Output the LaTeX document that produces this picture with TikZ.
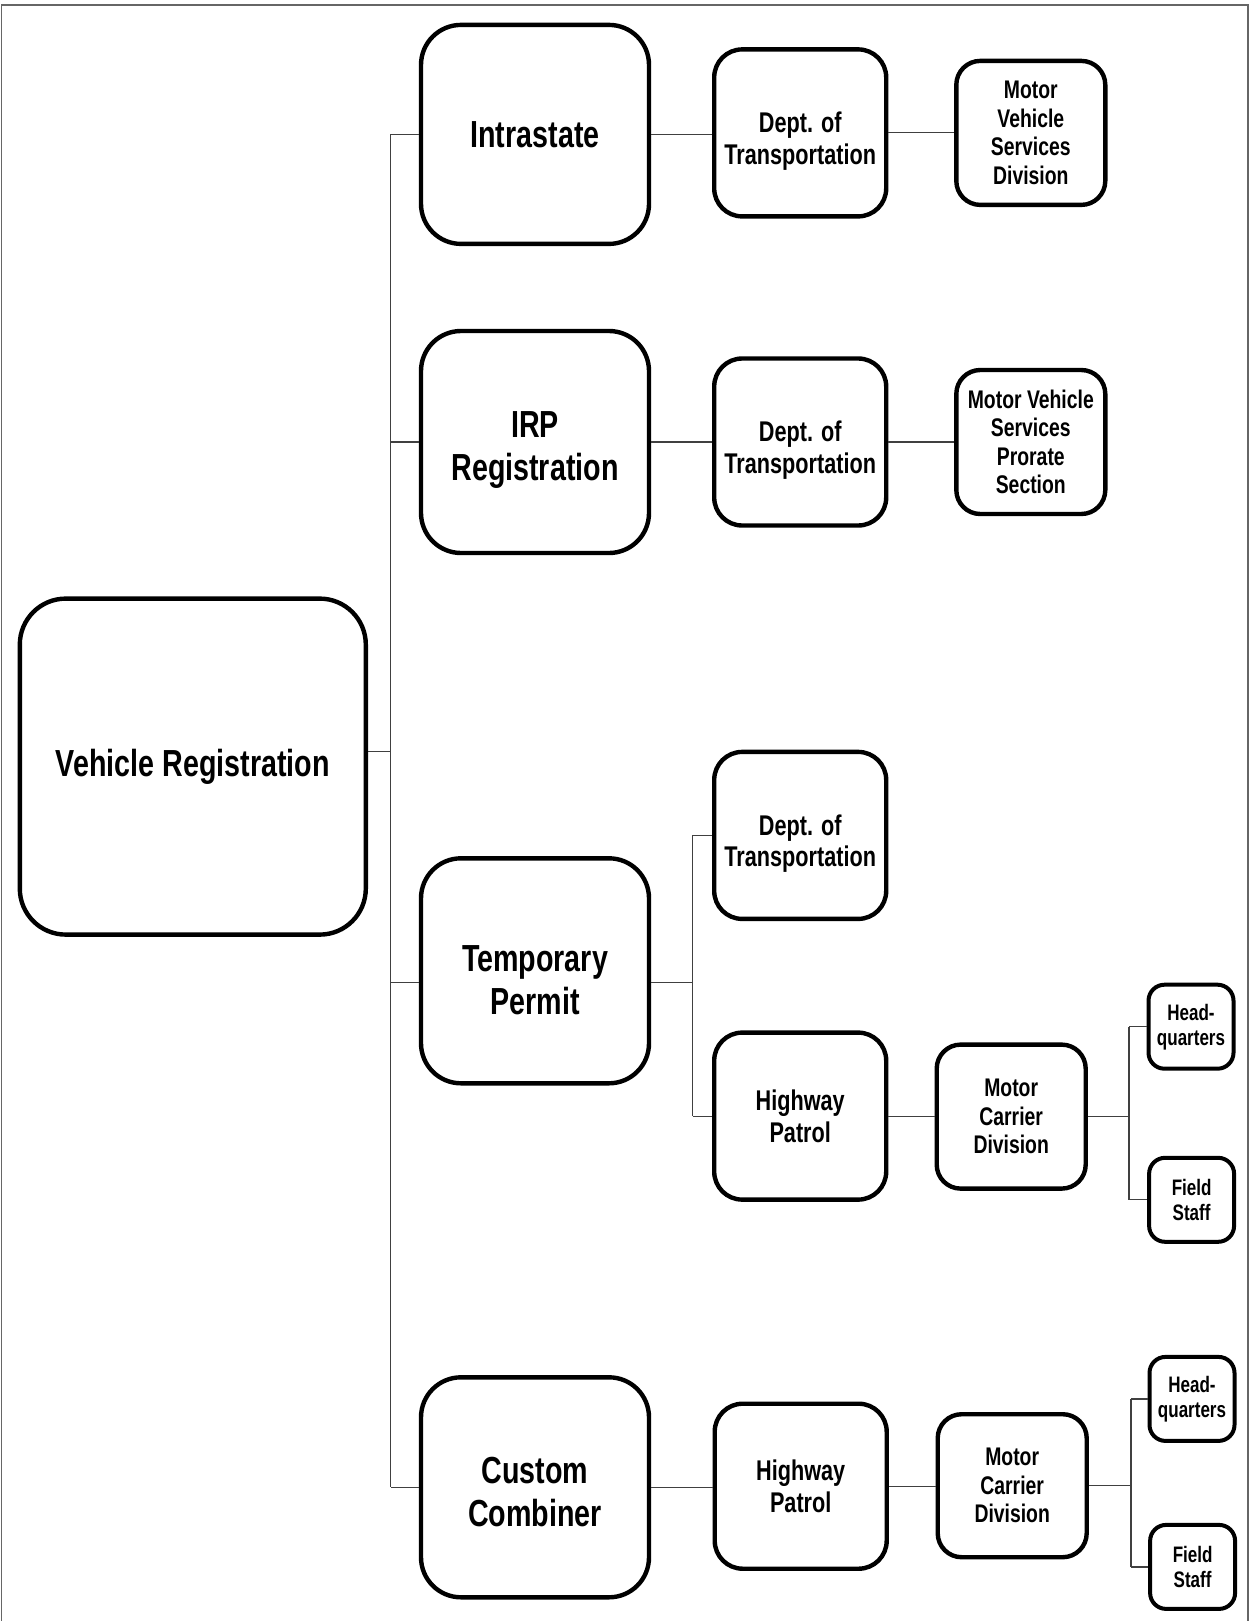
\documentclass[tikz,border=0pt]{standalone}
\usepackage{fontspec}
\newfontfamily\nar{Liberation Sans}[FakeStretch=0.76]
\newcommand\lowstrut[1]{\rule{0pt}{#1}}
\begin{document}
\begin{tikzpicture}[x=0.5pt,y=-0.5pt,
  box/.style={draw=black, line width=2.2pt, fill=white, align=center, inner sep=0pt},
  bigbox/.style={box, rounded corners=20pt, font=\nar\bfseries\fontsize{18.85}{21.5}\selectfont},
  rootbox/.style={box, rounded corners=23pt, font=\nar\bfseries\fontsize{18.85}{21.5}\selectfont},
  midbox/.style={box, rounded corners=14pt, minimum width=86pt, minimum height=83.5pt, font=\nar\bfseries\fontsize{14.25}{15.75}\selectfont},
  smallbox/.style={box, rounded corners=12pt, minimum width=74.5pt, minimum height=72pt, font=\nar\bfseries\fontsize{12.75}{14.25}\selectfont},
  tinybox/.style={box, line width=2pt, rounded corners=8pt, minimum width=42.5pt, minimum height=42pt, font=\nar\bfseries\fontsize{11.2}{12.5}\selectfont},
  conn/.style={draw=black!75, line width=0.6pt},
  frame/.style={draw=black!60, line width=0.8pt}]
\useasboundingbox (0,0) rectangle (1252,1621);
\draw[frame] (1.5,1621) -- (1.5,5) -- (1248,5) -- (1248,1621);

% root
\node[rootbox, minimum width=173pt, minimum height=168pt] (root) at (192.8,766.6) {Vehicle Registration};

% level 1
\node[bigbox, minimum width=114pt, minimum height=109.5pt] (intra) at (535,134.4) {Intrastate};
\node[bigbox, minimum width=114pt, minimum height=111pt] (irp) at (535,442) {\lowstrut{20.7pt}IRP\\Registration};
\node[bigbox, minimum width=114pt, minimum height=112.5pt] (temp) at (535,970.8) {\lowstrut{22.8pt}Temporary\\Permit};
\node[bigbox, minimum width=114pt, minimum height=110pt] (cust) at (535,1487.3) {\lowstrut{18pt}Custom\\Combiner};

% level 2
\node[midbox] (dot1) at (800.2,132.9) {\lowstrut{18.6pt}Dept. of\\Transportation};
\node[midbox] (dot2) at (800.2,442) {\lowstrut{18.6pt}Dept. of\\Transportation};
\node[midbox] (dot3) at (800.2,835.4) {\lowstrut{18.6pt}Dept. of\\Transportation};
\node[midbox] (hp1) at (800.2,1116.1) {Highway\\Patrol};
\node[midbox, minimum height=82.5pt] (hp2) at (800.7,1486.2) {Highway\\Patrol};

% level 3
\node[smallbox] (mvsd) at (1030.8,132.9) {Motor\\Vehicle\\Services\\Division};
\node[smallbox] (mvsp) at (1030.8,442) {Motor Vehicle\\Services\\Prorate\\Section};
\node[smallbox] (mc1) at (1011.2,1116.6) {Motor\\Carrier\\Division};
\node[smallbox, minimum height=71.5pt] (mc2) at (1012.2,1485.7) {Motor\\Carrier\\Division};

% level 4
\node[tinybox] (hq1) at (1191,1026.7) {Head-\\quarters};
\node[tinybox] (fs1) at (1191.6,1199.8) {Field\\Staff};
\node[tinybox] (hq2) at (1192,1398.9) {Head-\\quarters};
\node[tinybox] (fs2) at (1192.6,1566.9) {Field\\Staff};

% trunk
\coordinate (tr) at (390.8,751.6);
\draw[conn] ([yshift=7.5pt]root.east) -- (tr);
\draw[conn] (tr |- intra.west) -- (tr |- cust.west);
\draw[conn] (tr |- intra.west) -- (intra.west);
\draw[conn] (tr |- irp.west) -- (irp.west);
\draw[conn] (tr |- temp.west) ++(0,11.4) coordinate (tw) -- (tw -| temp.west);
\draw[conn] (tr |- cust.west) -- (cust.west);

% row 1 and 2
\draw[conn] (intra.east) -- (intra.east -| dot1.west);
\draw[conn] (dot1.east) -- (dot1.east -| mvsd.west);
\draw[conn] (irp.east) -- (dot2.west);
\draw[conn] (dot2.east) -- (mvsp.west);

% temporary permit
\coordinate (tb) at (692.7,982.2);
\draw[conn] ([yshift=-5.7pt]temp.east) -- (tb);
\draw[conn] (tb |- dot3.west) -- (tb |- hp1.west);
\draw[conn] (tb |- dot3.west) -- (dot3.west);
\draw[conn] (tb |- hp1.west) -- (hp1.west);
\draw[conn] (hp1.east) -- (hp1.east -| mc1.west);
\coordinate (mb1) at (1129,1116.6);
\draw[conn] (mc1.east) -- (mb1);
\draw[conn] (mb1 |- hq1.west) -- (mb1 |- fs1.west);
\draw[conn] (mb1 |- hq1.west) -- (hq1.west);
\draw[conn] (mb1 |- fs1.west) -- (fs1.west);

% custom combiner
\draw[conn] (cust.east) -- (cust.east -| hp2.west);
\draw[conn] (hp2.east) -- (hp2.east -| mc2.west);
\coordinate (mb2) at (1131,1485.7);
\draw[conn] (mc2.east) -- (mb2);
\draw[conn] (mb2 |- hq2.west) -- (mb2 |- fs2.west);
\draw[conn] (mb2 |- hq2.west) -- (hq2.west);
\draw[conn] (mb2 |- fs2.west) -- (fs2.west);
\end{tikzpicture}
\end{document}
